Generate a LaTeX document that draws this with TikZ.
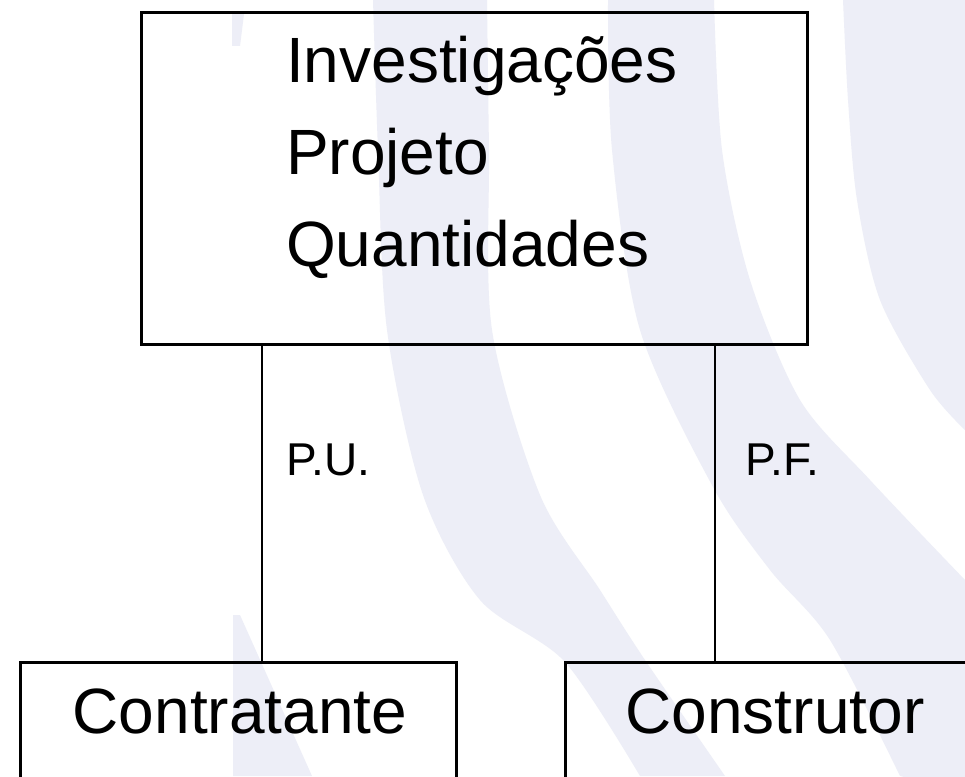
\documentclass[tikz,border=0pt]{standalone}
\usepackage{fontspec}
\setmainfont{Liberation Sans}
\usepackage{xcolor}
\usepackage{tikz}
\definecolor{marca}{RGB}{237,238,247}
\tikzset{
  caixa/.style={draw=black, line width=2.6pt, inner sep=0pt},
  ligacao/.style={draw=black, line width=2.6pt},
  textogrande/.style={inner sep=0pt, font=\fontsize{64}{77}\selectfont},
  rotulo/.style={inner sep=0pt, font=\fontsize{46}{55}\selectfont}
}

\begin{document}
\begin{tikzpicture}[x=1pt,y=1pt]
                    \useasboundingbox (0,0) rectangle (965,-776);
                    \clip (0,0) rectangle (965,-776);
                    \fill [white] (0,0) rectangle (965,-776);
                    % arcos de fundo
                    \fill [marca] (232,-14) -- (244,-14) -- (240,-46) -- (232,-46) -- cycle;
                    \fill [marca] (233,-615) -- (240,-615) -- (312,-776) -- (233,-776) -- cycle;
                    \fill [marca] plot [smooth] coordinates {(373,0) (378,-150) (387,-330) (423,-495) (480,-600) (565,-662) (640,-776)}
                        -- plot [smooth] coordinates {(725,-776) (645,-660) (600,-590) (540,-495) (492,-330) (489,-150) (487,0)} -- cycle;
                    \fill [marca] plot [smooth] coordinates {(608,0) (612,-150) (640,-330) (713,-487) (770,-570) (830,-640) (900,-776)}
                        -- (1000,-800) -- (1000,-580)
                        -- plot [smooth] coordinates {(965,-580) (870,-480) (800,-400) (750,-280) (722,-150) (714,0)} -- cycle;
                    \fill [marca] plot [smooth] coordinates {(843,0) (848,-100) (857,-200) (880,-300) (930,-390) (965,-430)}
                        -- (1000,-430) -- (1000,0) -- cycle;
                    % caixas
                    \node [caixa, anchor=north west, minimum width=666pt, minimum height=332pt] (topo) at (140,-11) {};
                    \node [caixa, anchor=north west, minimum width=436pt, minimum height=160pt] (contratante) at (19,-661) {};
                    \node [caixa, anchor=north west, minimum width=440pt, minimum height=160pt] (construtor) at (564,-661) {};
                    \node [textogrande, anchor=base west] (investigacoes) at (286,-82) {Investigações};
                    \node [textogrande, anchor=base west] (projeto) at (286,-174) {Projeto};
                    \node [textogrande, anchor=base west] (quantidades) at (286,-266) {Quantidades};
                    \node [textogrande, anchor=base] (txtcontratante) at (240,-733) {Contratante};
                    \node [textogrande, anchor=base] (txtconstrutor) at (775,-733) {Construtor};
                    % ligacoes
                    \coordinate (ramoesq) at (262,-500);
                    \coordinate (ramodir) at (715,-500);
                    \draw [ligacao] (ramoesq |- topo.south) -- (ramoesq |- contratante.north);
                    \draw [ligacao] (ramodir |- topo.south) -- (ramodir |- construtor.north);
                    \node [rotulo, anchor=base west] (pu) at (286.5,-475) {P.U.};
                    \node [rotulo, anchor=base west] (pf) at (745.5,-475) {P.F.};
\end{tikzpicture}
\end{document}
